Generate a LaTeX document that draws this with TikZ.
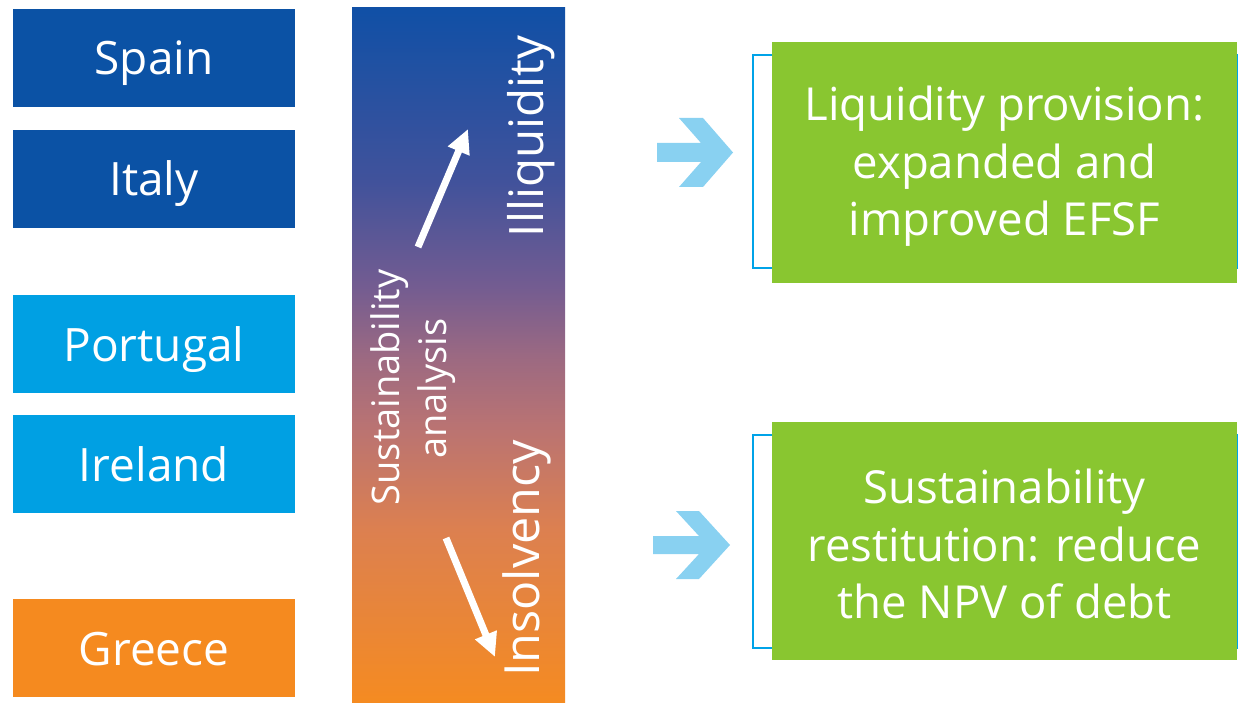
\documentclass[tikz,border=0pt]{standalone}
\usepackage{fontspec}
\setmainfont{Open Sans}
\usetikzlibrary{arrows.meta}
\definecolor{dblue}{RGB}{11,82,165}
\definecolor{lblue}{RGB}{0,160,227}
\definecolor{gorange}{RGB}{245,138,31}
\definecolor{egreen}{RGB}{137,198,48}
\definecolor{skyarr}{RGB}{137,209,241}
\definecolor{brk}{RGB}{0,163,232}
\definecolor{gz}{RGB}{245,139,33}
\definecolor{ga}{RGB}{220,128,80}
\definecolor{gb}{RGB}{185,115,115}
\definecolor{gc}{RGB}{155,105,130}
\definecolor{gd}{RGB}{115,92,145}
\definecolor{ge}{RGB}{65,82,155}
\definecolor{gf}{RGB}{16,80,166}
\pgfdeclareverticalshading{barshade}{100bp}{color(0bp)=(gz); color(25bp)=(gz); color(37.5bp)=(ga); color(45bp)=(gb); color(50bp)=(gc); color(55bp)=(gd); color(62.5bp)=(ge); color(75bp)=(gf); color(100bp)=(gf)}
\tikzset{
  country/.style={minimum width=282pt, minimum height=98pt, inner sep=0pt, text=white,
    font=\fontsize{46}{46}\selectfont, text height=34pt, text depth=0pt},
  greenbox/.style={fill=egreen, minimum width=465pt, minimum height=#1, inner sep=0pt},
  greentext/.style={text=white, align=center, inner sep=0pt,
    font=\fontsize{45.5}{57.5}\selectfont},
  bracketbox/.style={draw=brk, line width=2.5pt},
  vtext/.style={rotate=90, anchor=base, text=white, inner sep=0pt},
  warrow/.style={white, line width=7pt, -{Triangle[length=24pt,width=22pt]}},
  blockarrow/.style={fill=skyarr},
}
\begin{document}
\begin{tikzpicture}[x=1pt,y=-1pt]
\useasboundingbox (0,0) rectangle (1238,703);
% countries
\node[country, fill=dblue] (spain) at (154,58) {Spain};
\node[country, fill=dblue] (italy) at (154,179) {Italy};
\node[country, fill=lblue] (portugal) at (154,344) {Portugal};
\node[country, fill=lblue] (ireland) at (154,464) {Ireland};
\node[country, fill=gorange] (greece) at (154,648) {Greece};
% gradient bar
\shade[shading=barshade] (352,8) rectangle (565,703);
\node[vtext, font=\fontsize{47.5}{47.5}\selectfont] (illiq) at (543,136.5) {Illiquidity};
\node[vtext, font=\fontsize{48.5}{48.5}\selectfont] (insol) at (539,558.5) {Insolvency};
\node[vtext, font=\fontsize{38}{38}\selectfont] (sust) at (399,387.5) {Sustainability};
\node[vtext, font=\fontsize{38}{38}\selectfont] (anal) at (446,388.5) {analysis};
\coordinate (u1) at (418,247);
\coordinate (u2) at (468,129);
\coordinate (d1) at (446,538);
\coordinate (d2) at (495,657);
\draw[warrow] (u1) -- (u2);
\draw[warrow] (d1) -- (d2);
% block arrows
\fill[blockarrow] (657,143) -- (701,143) -- (679,118) -- (703,118) -- (733,152.5)
  -- (703,187) -- (679,187) -- (701,162) -- (657,162) -- cycle;
\fill[blockarrow] (653,536) -- (699,536) -- (676,511) -- (699,511) -- (730,545)
  -- (699,579) -- (676,579) -- (699,554) -- (653,554) -- cycle;
% brackets and green boxes
\draw[bracketbox] (753,55) rectangle (1237,268);
\draw[bracketbox] (753,435) rectangle (1237,648);
\node[greenbox=241pt] (liq) at (1004.5,162.5) {};
\node[greentext] (liqtext) at ([yshift=-4pt]liq.center) {Liquidity provision:\\expanded and\\improved EFSF};
\node[greenbox=238pt] (sus) at (1004.5,541) {};
\node[greentext] (sustext) at ([yshift=-3pt]sus.center) {Sustainability\\restitution: reduce\\the NPV of debt};
\end{tikzpicture}
\end{document}
